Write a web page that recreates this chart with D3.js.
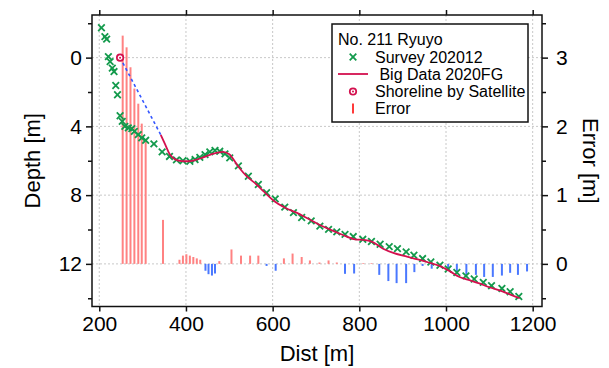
<!DOCTYPE html>
<html>
<head>
<meta charset="utf-8">
<script src="https://cdn.jsdelivr.net/npm/d3@7"></script>
<style>
body { margin: 0; background: #fff; }
text { font-family: "Liberation Sans", Arial, sans-serif; fill: #000; }
</style>
</head>
<body>
<script>
// survey 202012
var surveyDist = [205, 213, 217, 221, 225, 230, 234, 238, 242, 248, 253, 259, 267, 275, 281, 290, 298, 307, 326, 345,
	362, 378, 393, 409, 421, 432, 444, 455, 467, 478, 490, 501, 521, 544, 567, 586, 606, 628, 648, 667,
	689, 709, 729, 748, 767, 786, 808, 828, 848, 869, 888, 908, 926, 946, 965, 986, 1005, 1025, 1046, 1065,
	1086, 1105, 1129, 1148, 1168];
var surveyDepth = [-1.74, -1.22, -1.08, -0.06, 0.23, 0.61, 0.81, 1.62, 2.16, 3.38, 3.71, 4.0, 4.09, 4.13, 4.29, 4.48, 4.67, 4.81, 5.02, 5.48,
	5.75, 5.95, 6.0, 6.03, 5.93, 5.8, 5.64, 5.48, 5.4, 5.45, 5.6, 5.83, 6.3, 6.9, 7.38, 7.86, 8.22, 8.7, 9.02, 9.3,
	9.5, 9.8, 9.99, 10.14, 10.28, 10.41, 10.57, 10.7, 10.86, 11.0, 11.11, 11.3, 11.5, 11.69, 11.89, 12.08, 12.3, 12.5, 12.7, 12.88,
	13.08, 13.27, 13.43, 13.62, 13.9];

// big data 2020FG
var bigDist = [342, 352, 363, 375, 390, 405, 420, 440, 460, 485, 500, 521, 540, 563, 580, 601, 630, 655, 680, 710,
	740, 770, 790, 810, 830, 855, 880, 910, 935, 960, 985, 1010, 1030, 1050, 1075, 1100, 1130, 1150, 1170];
var bigDepth = [4.5, 5.05, 5.64, 5.92, 6.02, 6.03, 5.97, 5.8, 5.62, 5.48, 5.62, 6.35, 6.9, 7.38, 7.8, 8.3, 8.75, 9.02, 9.35, 9.75,
	10.08, 10.4, 10.57, 10.6, 10.72, 11.12, 11.38, 11.58, 11.74, 11.92, 12.12, 12.45, 12.75, 12.92, 13.12, 13.36, 13.6, 13.8, 14.0];

// shoreline by satellite
var shoreDist = [248],
	shoreDepth = [0];

// error
var errDist = [254, 263, 272, 281, 290, 298, 307, 347,
	385, 393, 401, 409, 417, 425, 433, 445, 452, 460, 467, 477,
	505, 527, 548, 567, 586, 607, 626, 646, 667, 686, 708, 729, 748, 767, 788, 809, 828,
	846, 867, 886, 908, 927, 946, 967, 986, 1005, 1025, 1047, 1069, 1088, 1108, 1129, 1148, 1166, 1187];
var errVal = [3.32, 3.15, 2.86, 2.55, 2.33, 2.04, 1.78, 0.64,
	0.06, 0.12, 0.14, 0.12, 0.1, 0.08, 0.06, -0.1, -0.15, -0.17, -0.14, 0.04,
	0.21, 0.12, 0.12, 0.12, -0.03, -0.1, 0.08, 0.15, 0.1, 0.05, 0.02, 0.05, 0.02, -0.145, -0.14, 0.01, 0.01,
	-0.16, -0.25, -0.28, -0.28, -0.12, -0.03, -0.07, -0.02, -0.08, -0.13, -0.16, -0.16, -0.19, -0.19, -0.17, -0.13, -0.16, -0.11];

var xTicks = [200, 400, 600, 800, 1000, 1200],
	depthTicks = [0, 4, 8, 12],
	depthMinor = [-2, 2, 6, 10, 14],
	errTicks = [0, 1, 2, 3],
	errMinor = [-0.5, 0.5, 1.5, 2.5, 3.5];

var legendTitle = "No. 211 Ryuyo",
	legendLabels = ["Survey 202012", " Big Data 2020FG", "Shoreline by Satellite", "Error"];

var W = 609, H = 368;
var margin = {top: 15, right: 67, bottom: 61.5, left: 92},
	width = W - margin.left - margin.right,
	height = H - margin.top - margin.bottom;

var x = d3.scaleLinear().domain([183.2, 1221.5]).range([0, width]);
var y = d3.scaleLinear().domain([-2.48, 14.48]).range([0, height]);
var yErr = d3.scaleLinear().domain([3.62, -0.62]).range([0, height]);

var svg = d3.select('body').append('svg')
	.attr('width', W)
	.attr('height', H);

var main = svg.append('g')
	.attr('transform', 'translate(' + margin.left + ',' + margin.top + ')');

// dotted grid
main.append('g').selectAll('line')
	.data(xTicks).enter().append('line')
	.attr('x1', function(d) { return x(d); })
	.attr('x2', function(d) { return x(d); })
	.attr('y1', 0).attr('y2', height)
	.attr('stroke', '#c8c8c8').attr('stroke-dasharray', '2,2');
main.append('g').selectAll('line')
	.data(depthTicks).enter().append('line')
	.attr('y1', function(d) { return y(d); })
	.attr('y2', function(d) { return y(d); })
	.attr('x1', 0).attr('x2', width)
	.attr('stroke', '#c8c8c8').attr('stroke-dasharray', '2,2');

// error bars
main.append('g').selectAll('line')
	.data(errDist).enter().append('line')
	.attr('x1', function(d) { return x(d); })
	.attr('x2', function(d) { return x(d); })
	.attr('y1', yErr(0))
	.attr('y2', function(d, i) { return yErr(errVal[i]); })
	.attr('stroke', function(d, i) { return errVal[i] >= 0 ? '#ff8282' : '#4a78ff'; })
	.attr('stroke-width', 2);

// dashed link from shoreline to big data
main.append('line')
	.attr('x1', x(shoreDist[0])).attr('y1', y(shoreDepth[0]))
	.attr('x2', x(bigDist[0])).attr('y2', y(bigDepth[0]))
	.attr('stroke', '#3355ff').attr('stroke-width', 1.6)
	.attr('stroke-dasharray', '3,3');

// survey crosses
function cross(sel, s) {
	sel.append('path')
		.attr('d', 'M' + (-s) + ',' + (-s) + 'L' + s + ',' + s + 'M' + (-s) + ',' + s + 'L' + s + ',' + (-s))
		.attr('stroke', '#139a4c').attr('stroke-width', 1.8).attr('fill', 'none');
}
main.append('g').selectAll('g')
	.data(surveyDist).enter().append('g')
	.attr('transform', function(d, i) { return 'translate(' + x(d) + ',' + y(surveyDepth[i]) + ')'; })
	.call(cross, 3.3);

// big data line
var line = d3.line()
	.x(function(d) { return x(d); })
	.y(function(d, i) { return y(bigDepth[i]); })
	.curve(d3.curveMonotoneX);
main.append('path')
	.datum(bigDist)
	.attr('d', line)
	.attr('fill', 'none')
	.attr('stroke', '#d3104e')
	.attr('stroke-width', 1.8);

// shoreline marker
function shore(sel) {
	sel.append('circle').attr('r', 3.2).attr('fill', '#fff').attr('stroke', '#d3104e').attr('stroke-width', 1.8);
	sel.append('circle').attr('r', 1).attr('fill', '#d3104e');
}
main.selectAll('.shore')
	.data(shoreDist).enter().append('g')
	.attr('class', 'shore')
	.attr('transform', function(d, i) { return 'translate(' + x(d) + ',' + y(shoreDepth[i]) + ')'; })
	.call(shore);

// frame and axes
main.append('rect')
	.attr('width', width).attr('height', height)
	.attr('fill', 'none').attr('stroke', '#111').attr('stroke-width', 1.5);

function styleAxis(g) {
	g.select('.domain').remove();
	g.selectAll('.tick line').attr('stroke', '#111').attr('stroke-width', 1.5);
	g.selectAll('.tick text').style('font-size', '21px').style('font-family', '"Liberation Sans", Arial, sans-serif');
}

var fmt = d3.format('d');

main.append('g')
	.attr('transform', 'translate(0,' + height + ')')
	.call(d3.axisBottom(x).tickValues(xTicks).tickSize(5).tickPadding(5).tickFormat(fmt))
	.call(styleAxis);
main.append('g')
	.call(d3.axisTop(x).tickValues(xTicks).tickSize(5).tickFormat(''))
	.call(styleAxis);
main.append('g')
	.call(d3.axisLeft(y).tickValues(depthTicks).tickSize(6).tickPadding(4).tickFormat(fmt))
	.call(styleAxis);
main.append('g')
	.call(d3.axisLeft(y).tickValues(depthMinor).tickSize(4).tickFormat(''))
	.call(styleAxis);
main.append('g')
	.attr('transform', 'translate(' + width + ',0)')
	.call(d3.axisRight(yErr).tickValues(errTicks).tickSize(6).tickPadding(8).tickFormat(fmt))
	.call(styleAxis);
main.append('g')
	.attr('transform', 'translate(' + width + ',0)')
	.call(d3.axisRight(yErr).tickValues(errMinor).tickSize(4).tickFormat(''))
	.call(styleAxis);

// axis titles
svg.append('text')
	.attr('x', margin.left + width / 2).attr('y', 361)
	.attr('text-anchor', 'middle').style('font-size', '22px')
	.text('Dist [m]');
svg.append('text')
	.attr('transform', 'translate(40,' + (margin.top + height / 2) + ') rotate(-90)')
	.attr('text-anchor', 'middle').style('font-size', '22px')
	.text('Depth [m]');
svg.append('text')
	.attr('transform', 'translate(583,' + (margin.top + height / 2) + ') rotate(90)')
	.attr('text-anchor', 'middle').style('font-size', '22px')
	.text('Error [m]');

// legend
var lg = svg.append('g').attr('transform', 'translate(332,24)');
lg.append('rect')
	.attr('width', 196).attr('height', 98)
	.attr('fill', '#fff').attr('stroke', '#111').attr('stroke-width', 1.5);
lg.append('text').attr('x', 6).attr('y', 21).style('font-size', '16px').text(legendTitle);
var rowY = [33, 50, 67.5, 84.5];
legendLabels.forEach(function(lbl, i) {
	var r = lg.append('g').attr('transform', 'translate(21,' + rowY[i] + ')');
	if (i == 0) cross(r, 3.3);
	if (i == 1) r.append('line').attr('x1', -15).attr('x2', 15).attr('stroke', '#d3104e').attr('stroke-width', 1.8);
	if (i == 2) shore(r);
	if (i == 3) r.append('line').attr('y1', -5).attr('y2', 5).attr('stroke', '#ff3a3a').attr('stroke-width', 2);
	lg.append('text').attr('x', 43).attr('y', rowY[i] + 5.5).style('font-size', '16px')
		.attr('xml:space', 'preserve').style('white-space', 'pre').text(lbl);
});
</script>
</body>
</html>
